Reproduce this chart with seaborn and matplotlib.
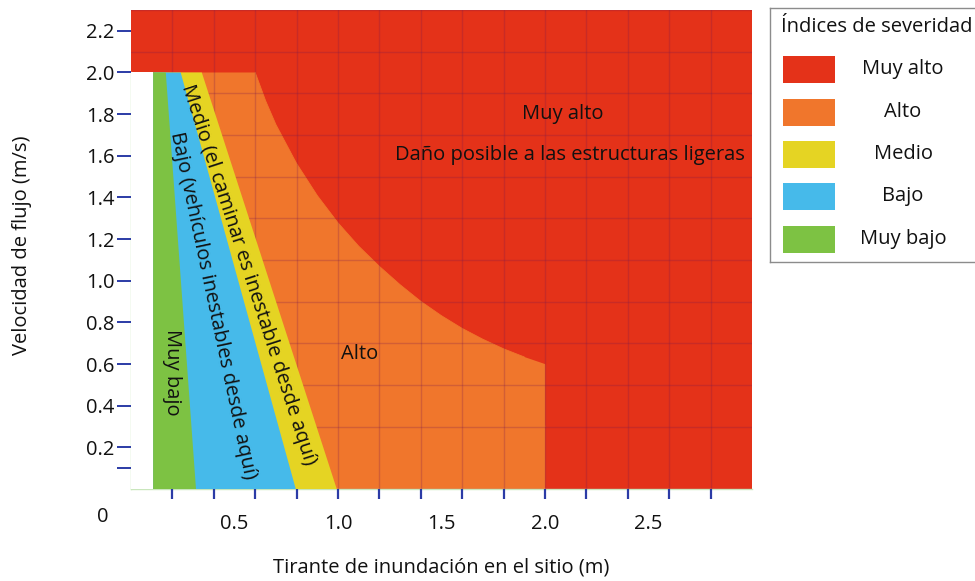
import matplotlib
matplotlib.use("Agg")
import matplotlib.pyplot as plt
from matplotlib.patches import Rectangle
from matplotlib.ticker import FixedLocator, MultipleLocator
import numpy as np
import pandas as pd
import seaborn as sns

# ---------------- data ----------------
zone_names = ["Muy alto", "Alto", "Medio", "Bajo", "Muy bajo"]
zone_colors = ["#E43219", "#F0762C", "#E5D423", "#46BAEA", "#7DC243"]

# left edge of coloured bands (depth, m)
band_left_depth = 0.107
# right edges of the Muy bajo / Bajo / Medio bands at velocity 0 and at velocity 2.0
band_right_depth_v0 = [0.314, 0.796, 0.994]
band_right_depth_v2 = [0.168, 0.240, 0.342]
band_top_velocity = 2.0

# Alto / Muy alto boundary curve
curve_depth = [0.60, 0.65, 0.70, 0.80, 0.90, 1.00, 1.10, 1.20, 1.30, 1.40,
               1.50, 1.60, 1.70, 1.80, 1.90, 2.00]
curve_velocity = [2.00, 1.865, 1.750, 1.563, 1.409, 1.278, 1.166, 1.069, 0.981, 0.901,
                  0.832, 0.771, 0.719, 0.673, 0.634, 0.600]
alto_max_depth = 2.0

x_range = (0.0, 3.0)
y_range = (0.0, 2.3)
x_tick_labels = ["0.5", "1.0", "1.5", "2.0", "2.5"]
x_tick_values = [0.5, 1.0, 1.5, 2.0, 2.5]
y_tick_values = [0.1, 0.2, 0.4, 0.6, 0.8, 1.0, 1.2, 1.4, 1.6, 1.8, 2.0, 2.2]
y_tick_labels = ["", "0.2", "0.4", "0.6", "0.8", "1.0", "1.2", "1.4", "1.6", "1.8", "2.0", "2.2"]

# ---------------- style ----------------
sns.set_theme(style="white")
plt.rcParams["font.family"] = ["Open Sans", "DejaVu Sans"]
FS = 14.5
TXT = "#111111"
TICKC = "#2B3BA6"

fig = plt.figure(figsize=(9.75, 5.81), dpi=100)
W, H = 975, 581
ax = fig.add_axes([131 / W, (H - 489) / H, 621 / W, 479 / H])
ax.set_xlim(*x_range)
ax.set_ylim(*y_range)

# Muy alto background
ax.fill_between([x_range[0], x_range[1]], y_range[0], y_range[1],
                color=zone_colors[0], lw=0, zorder=1)

# Alto region
cd = np.array(curve_depth)
cv = np.array(curve_velocity)
alto_x = np.concatenate([[band_left_depth, alto_max_depth], cd[::-1], [band_left_depth]])
alto_y = np.concatenate([[0, 0], cv[::-1], [band_top_velocity]])
ax.fill(alto_x, alto_y, color=zone_colors[1], lw=0, zorder=2)
curve_df = pd.DataFrame({"depth": np.concatenate([cd, [alto_max_depth]]),
                         "velocity": np.concatenate([cv, [0.0]])})
sns.lineplot(data=curve_df, x="depth", y="velocity", sort=False, color=zone_colors[1],
             lw=0.6, ax=ax, zorder=2)

# Medio, Bajo, Muy bajo bands (drawn from outermost inward)
for i, ci in zip([2, 1, 0], [2, 3, 4]):
    xs = [band_left_depth, band_right_depth_v0[i], band_right_depth_v2[i], band_left_depth]
    ys = [0, 0, band_top_velocity, band_top_velocity]
    ax.fill(xs, ys, color=zone_colors[ci], lw=0, zorder=3)

# white strip
ax.fill_between([0, band_left_depth], 0, band_top_velocity, color="white", lw=0, zorder=4)

# ---------------- ticks / grid ----------------
ax.xaxis.remove_overlapping_locs = False
ax.xaxis.set_major_locator(FixedLocator(x_tick_values))
ax.set_xticklabels(x_tick_labels)
ax.xaxis.set_minor_locator(FixedLocator(np.round(np.arange(0.2, 2.81, 0.2), 2)))
ax.tick_params(axis="x", which="major", length=0, pad=18, labelsize=FS, labelcolor=TXT)
ax.tick_params(axis="x", which="minor", bottom=True, length=7, width=1.6, color=TICKC,
               direction="out")

ax.yaxis.set_major_locator(FixedLocator(y_tick_values))
ax.set_yticklabels(y_tick_labels)
ax.yaxis.set_minor_locator(MultipleLocator(0.1))
ax.tick_params(axis="y", which="major", left=True, length=10, width=1.4, color=TICKC,
               direction="out", pad=2, labelsize=FS, labelcolor=TXT)
ax.tick_params(axis="y", which="minor", left=False, length=0)

ax.set_axisbelow(False)
ax.grid(False)
ax.grid(which="minor", axis="both", color="#7a1a50", alpha=0.25, lw=1.0, zorder=5)

for s in ["top", "right"]:
    ax.spines[s].set_visible(False)
for s in ["left", "bottom"]:
    ax.spines[s].set_color("#c9e6bc")
    ax.spines[s].set_linewidth(1.0)
ax.spines["left"].set_bounds(0, band_top_velocity)

ax.text(-0.045, -0.058, "0", transform=ax.transAxes, ha="center", va="center",
        fontsize=FS, color=TXT)

ax.set_xlabel("Tirante de inundación en el sitio (m)", fontsize=FS, color=TXT)
ax.xaxis.set_label_coords(0.5, (489 - 567) / 479)
ax.xaxis.label.set_va("center")
ax.set_ylabel("Velocidad de flujo (m/s)", fontsize=FS, color=TXT)
ax.yaxis.set_label_coords((22 - 131) / 621, 0.5 + (249.5 - 245) / 479)
ax.yaxis.label.set_va("center")

# ---------------- annotations ----------------
ax.text(2.087, 1.80, "Muy alto", ha="center", va="center", fontsize=FS, color=TXT, zorder=6)
ax.text(2.12, 1.605, "Daño posible a las estructuras ligeras", ha="center", va="center",
        fontsize=FS, color=TXT, zorder=6)
ax.text(1.106, 0.646, "Alto", ha="center", va="center", fontsize=FS, color=TXT, zorder=6)
ax.text(0.198, 0.559, "Muy bajo", ha="center", va="center", rotation=-90,
        rotation_mode="anchor", fontsize=FS, color=TXT, zorder=6)
ax.text(0.396, 0.882, "Bajo (vehículos inestables desde aquí)", ha="center", va="center",
        rotation=-78, rotation_mode="anchor", fontsize=FS, color=TXT, zorder=6)
ax.text(0.565, 1.027, "Medio (el caminar es inestable desde aquí)", ha="center", va="center",
        rotation=-72, rotation_mode="anchor", fontsize=FS, color=TXT, zorder=6)

# ---------------- legend ----------------
lx0, ly0, lw_, lh_ = 770, 8, 230, 254
lax = fig.add_axes([lx0 / W, (H - ly0 - lh_) / H, lw_ / W, lh_ / H])
lax.set_xlim(0, lw_)
lax.set_ylim(lh_, 0)
lax.set_xticks([])
lax.set_yticks([])
for s in lax.spines.values():
    s.set_color("#8c8c8c")
    s.set_linewidth(1.0)
lax.set_facecolor("white")
lax.text(11, 19, "Índices de severidad", ha="left", va="center", fontsize=FS, color=TXT)
row_centers = [61, 104, 146, 188, 231]
for name, col, yc in zip(zone_names, zone_colors, row_centers):
    lax.add_patch(Rectangle((13, yc - 13.5), 52, 27, facecolor=col, edgecolor="none"))
    lax.text(133, yc, name, ha="center", va="center", fontsize=FS, color=TXT)

fig.savefig("out.png", dpi=100)
